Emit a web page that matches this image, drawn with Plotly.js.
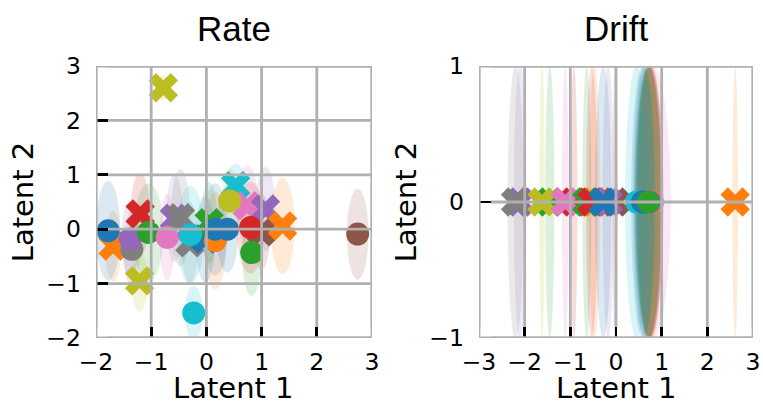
<!DOCTYPE html>
<html><head><meta charset="utf-8">
<script src="https://cdn.plot.ly/plotly-3.0.1.min.js"></script>
<style>html,body{margin:0;padding:0;background:#fff}#chart{width:763px;height:404px}</style>
</head><body><div id="chart"></div>
<script>
// tab10 palette
const palette = ['#1f77b4','#ff7f0e','#2ca02c','#d62728','#9467bd','#8c564b','#e377c2','#7f7f7f','#bcbd22','#17becf'];

// tick values
const rateTicksX = [-2,-1,0,1,2,3];
const rateTicksY = [-2,-1,0,1,2,3];
const driftTicksX = [-3,-2,-1,0,1,2,3];
const driftTicksY = [-1,0,1];

// ---- Rate panel: crosses (centre, ellipse width/height, colour index)
const rateCrossX = [-1.69,-1.21,-1.20,-0.58,-0.47,-0.30,-0.02,0.05,0.53,0.74,1.07,1.00,1.38,-0.78];
const rateCrossY = [-0.31,-0.95,0.28,0.20,0.21,-0.25,-0.18,0.12,0.80,0.43,0.37,-0.05,0.06,2.60];
const rateCrossW = [0.30,0.30,0.35,0.30,0.35,0.30,0.35,0.30,0.35,0.40,0.35,0.30,0.44,0.25];
const rateCrossH = [1.30,1.13,1.50,1.60,1.80,1.50,1.60,1.50,0.80,1.50,1.55,1.40,1.77,0.45];
const rateCrossC = [1,8,3,4,7,7,0,2,9,6,4,5,1,8];

// ---- Rate panel: dots
const rateDotX = [-1.35,-1.38,-1.78,-1.05,-0.71,-0.29,-0.23,0.16,0.16,0.38,0.42,0.82,0.80,2.74];
const rateDotY = [-0.37,-0.18,-0.03,-0.06,-0.15,-0.10,-1.54,-0.21,0.00,0.00,0.52,-0.43,0.03,-0.09];
const rateDotW = [0.30,0.32,0.44,0.55,0.28,0.50,0.33,0.40,0.45,0.40,0.30,0.35,0.50,0.39];
const rateDotH = [1.40,1.40,1.83,1.80,1.60,1.80,1.00,1.80,1.70,1.60,1.20,1.60,1.70,1.68];
const rateDotC = [7,4,0,2,6,9,9,1,0,0,8,2,3,5];

// ---- Drift panel: crosses
const driftCrossX = [-2.10,-2.20,-1.45,-1.62,-0.92,-1.11,-0.47,-0.64,-0.53,-0.02,-0.17,-0.28,2.61];
const driftCrossY = [0,0,0,0,0,0,0,0,0,0,0,0,0];
const driftCrossW = [0.28,0.35,0.20,0.12,0.15,0.15,0.25,0.20,0.25,0.12,0.25,0.36,0.12];
const driftCrossH = [2.02,2.02,2.00,2.00,2.00,2.00,2.00,2.00,2.00,2.00,2.00,2.00,2.00];
const driftCrossC = [4,7,2,8,3,6,1,2,3,5,4,0,1];

// ---- Drift panel: dots
const driftDotX = [0.74,0.70,0.80,0.72,0.70,0.74,0.78,0.76,0.70,0.72,0.75,0.68,0.62,0.45,0.58,0.62,0.71];
const driftDotY = [0,0,0,0,0,0,0,0,0,0,0,0,0,0,0,0,0];
const driftDotW = [0.55,0.50,0.80,0.58,0.55,0.55,0.50,0.55,0.58,0.55,0.58,0.55,0.45,0.50,0.50,0.50,0.55];
const driftDotH = [2.00,2.00,2.00,2.00,2.00,2.00,2.00,2.00,2.00,2.00,2.00,2.00,2.00,2.00,2.00,2.00,2.00];
const driftDotC = [4,5,6,7,8,3,1,1,7,5,4,8,9,9,0,0,2];

// axis / panel titles
const panelTitles = ['Rate', 'Drift'];
const xTitle = 'Latent 1', yTitle = 'Latent 2';

function rgba(hex, a){
  const n = parseInt(hex.slice(1),16);
  return 'rgba('+((n>>16)&255)+','+((n>>8)&255)+','+(n&255)+','+a+')';
}
const W = 763, H = 404;
const rateXDom = [96/W, 372/W], driftXDom = [479/W, 753/W], yDom = [(H-338)/H, (H-66)/H];
const TICKX = 11, TICKY = 12;

const shapes = [];
function ellipses(xs, ys, ws, hs, cs, xr, yr){
  xs.forEach((x,i)=>{
    shapes.push({type:'circle', xref:xr, yref:yr, layer:'below',
      x0:x-ws[i]/2, x1:x+ws[i]/2, y0:ys[i]-hs[i]/2, y1:ys[i]+hs[i]/2,
      fillcolor:rgba(palette[cs[i]],0.16), line:{width:0}});
  });
}
ellipses(rateCrossX, rateCrossY, rateCrossW, rateCrossH, rateCrossC, 'x', 'y');
ellipses(rateDotX, rateDotY, rateDotW, rateDotH, rateDotC, 'x', 'y');
ellipses(driftCrossX, driftCrossY, driftCrossW, driftCrossH, driftCrossC, 'x2', 'y2');
ellipses(driftDotX, driftDotY, driftDotW, driftDotH, driftDotC, 'x2', 'y2');

const GRID = '#b0b0b0';
function frame(tx, ty, xr, yr, xdom){
  const xmin = tx[0], xmax = tx[tx.length-1], ymin = ty[0], ymax = ty[ty.length-1];
  const ux = (xmax - xmin) / ((xdom[1]-xdom[0]) * W);
  const uy = (ymax - ymin) / ((yDom[1]-yDom[0]) * H);
  // grid drawn above the markers, leaving room for the inward ticks
  tx.forEach(v=>shapes.push({type:'line', layer:'above', xref:xr, yref:yr, x0:v, x1:v, y0:ymin+TICKX*uy, y1:ymax, line:{color:GRID, width:2.8}}));
  ty.forEach(v=>shapes.push({type:'line', layer:'above', xref:xr, yref:yr, x0:xmin+TICKY*ux, x1:xmax, y0:v, y1:v, line:{color:GRID, width:2.8}}));
  // spines
  shapes.push({type:'rect', layer:'above', xref:xr, yref:yr, x0:xmin, x1:xmax, y0:ymin, y1:ymax, line:{color:GRID, width:2.8}, fillcolor:'rgba(0,0,0,0)'});
}
frame(rateTicksX, rateTicksY, 'x', 'y', rateXDom);
frame(driftTicksX, driftTicksY, 'x2', 'y2', driftXDom);

function markerTrace(xs, ys, cs, sym, sz, xa, ya){
  return {type:'scatter', mode:'markers', x:xs, y:ys, xaxis:xa, yaxis:ya, hoverinfo:'skip', showlegend:false,
    cliponaxis:false,
    marker:{symbol:sym, size:sz, color:cs.map(c=>palette[c]), line:{width:0}}};
}
const data = [
  markerTrace(rateCrossX, rateCrossY, rateCrossC, 'x', 26, 'x', 'y'),
  markerTrace(rateDotX, rateDotY, rateDotC, 'circle', 23, 'x', 'y'),
  markerTrace(driftCrossX, driftCrossY, driftCrossC, 'x', 26, 'x2', 'y2'),
  markerTrace(driftDotX, driftDotY, driftDotC, 'circle', 23, 'x2', 'y2')
];

const tickFont = {family:'DejaVu Sans', size:23.5, color:'#000'};
const labFont = {family:'DejaVu Sans', size:29, color:'#000'};
const headFont = {family:'Liberation Sans, Arial', size:35, color:'#000'};
function xax(dom, tv, rng, anchor){
  return {domain:dom, range:rng, tickvals:tv, ticks:'inside', ticklen:TICKX, tickwidth:2.8, tickcolor:'#000',
    showgrid:false, zeroline:false, showline:false, layer:'above traces',
    tickfont:tickFont, ticklabelstandoff:7, anchor:anchor, fixedrange:true, automargin:false};
}
function yax(tv, rng, anchor){
  return {domain:yDom, range:rng, tickvals:tv, ticks:'inside', ticklen:TICKY, tickwidth:2.8, tickcolor:'#000',
    showgrid:false, zeroline:false, showline:false, layer:'above traces',
    tickfont:tickFont, ticklabelstandoff:14, anchor:anchor, fixedrange:true, automargin:false,
    title:{text:yTitle, font:labFont, standoff:4}};
}
function centre(dom){ return (dom[0]+dom[1])/2; }
const layout = {
  width:W, height:H, margin:{l:0,r:0,t:0,b:0},
  paper_bgcolor:'#fff', plot_bgcolor:'#fff', showlegend:false,
  xaxis: xax(rateXDom, rateTicksX, [-2,3], 'y'),
  yaxis: yax(rateTicksY, [-2,3], 'x'),
  xaxis2: xax(driftXDom, driftTicksX, [-3,3], 'y2'),
  yaxis2: yax(driftTicksY, [-1,1], 'x2'),
  shapes: shapes,
  annotations: [
    {text:panelTitles[0], xref:'paper', yref:'paper', x:centre(rateXDom), y:(H-29)/H, xanchor:'center', yanchor:'middle', showarrow:false, font:headFont},
    {text:panelTitles[1], xref:'paper', yref:'paper', x:centre(driftXDom), y:(H-29)/H, xanchor:'center', yanchor:'middle', showarrow:false, font:headFont},
    {text:xTitle, xref:'paper', yref:'paper', x:centre(rateXDom), y:-0.006, xanchor:'center', yanchor:'bottom', showarrow:false, font:labFont, borderpad:0},
    {text:xTitle, xref:'paper', yref:'paper', x:centre(driftXDom), y:-0.006, xanchor:'center', yanchor:'bottom', showarrow:false, font:labFont, borderpad:0}
  ]
};
Plotly.newPlot('chart', data, layout, {staticPlot:true, displayModeBar:false});
</script>
</body></html>
